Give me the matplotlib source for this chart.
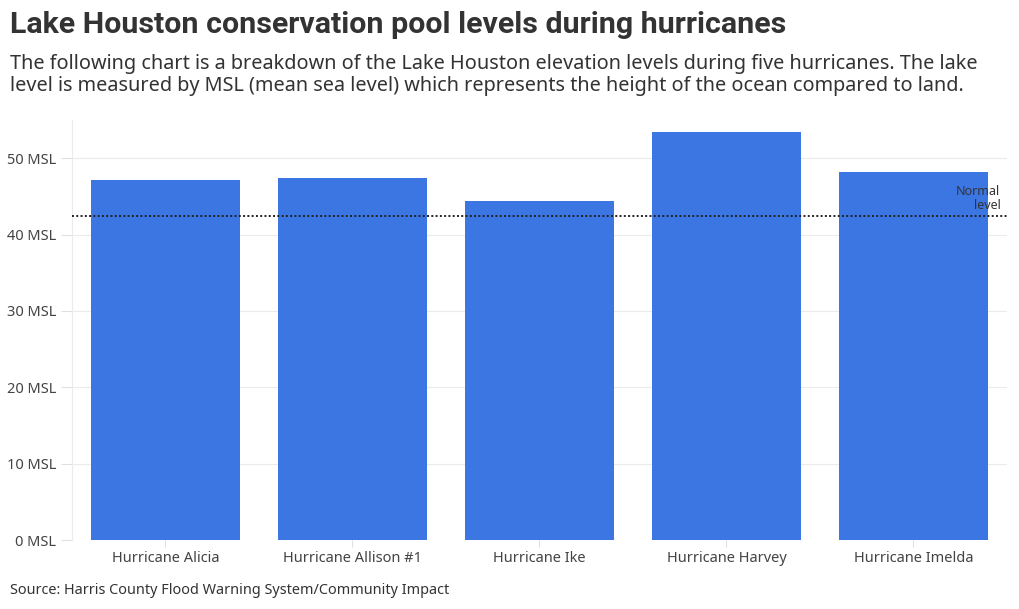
import matplotlib.pyplot as plt

plt.rcParams['font.family'] = ['Noto Sans', 'DejaVu Sans']

hurricanes = ['Hurricane Alicia', 'Hurricane Allison #1', 'Hurricane Ike',
              'Hurricane Harvey', 'Hurricane Imelda']
levels = [47.1, 47.4, 44.4, 53.4, 48.2]
normal_level = 42.4
yticks = [0, 10, 20, 30, 40, 50]

fig = plt.figure(figsize=(10.2, 6.09), dpi=100)
ax = fig.add_axes([72 / 1020, 69 / 609, 935 / 1020, 420 / 609])

ax.bar(range(len(hurricanes)), levels, width=0.8, color='#3b76e2', zorder=2)
ax.axhline(normal_level, color='#222222', linestyle=(0, (1, 1.2)), linewidth=1.4, zorder=3)
ax.text(0.993, normal_level + 0.5, 'Normal\nlevel', transform=ax.get_yaxis_transform(),
        ha='right', va='bottom', fontsize=9, color='#333333', linespacing=1.1, zorder=4)

ax.set_xlim(-0.5, len(hurricanes) - 0.5)
ax.set_ylim(0, 55)
ax.set_xticks(range(len(hurricanes)))
ax.set_xticklabels(hurricanes)
ax.set_yticks(yticks)
ax.set_yticklabels([f'{v} MSL' for v in yticks])
ax.grid(axis='y', color='#ebebeb', linewidth=0.8, zorder=0)
for s in ['top', 'right', 'bottom']:
    ax.spines[s].set_visible(False)
ax.spines['left'].set_color('#ebebeb')
ax.tick_params(axis='both', colors='#e0e0e0', labelcolor='#444444', labelsize=10.5, length=8)
ax.tick_params(axis='x', length=5, pad=3)

fig.text(10 / 1020, 1 - 25 / 609, 'Lake Houston conservation pool levels during hurricanes',
         fontsize=21.9, fontweight='bold', family=['Roboto', 'DejaVu Sans'], color='#333333', va='center')
fig.text(10 / 1020, 1 - 75 / 609,
         'The following chart is a breakdown of the Lake Houston elevation levels during five hurricanes. The lake\n'
         'level is measured by MSL (mean sea level) which represents the height of the ocean compared to land.',
         fontsize=14.3, color='#333333', va='center', linespacing=1.2)
fig.text(10 / 1020, 1 - 590 / 609, 'Source: Harris County Flood Warning System/Community Impact',
         fontsize=10.4, color='#333333', va='center')

fig.savefig('out.png', dpi=100)
